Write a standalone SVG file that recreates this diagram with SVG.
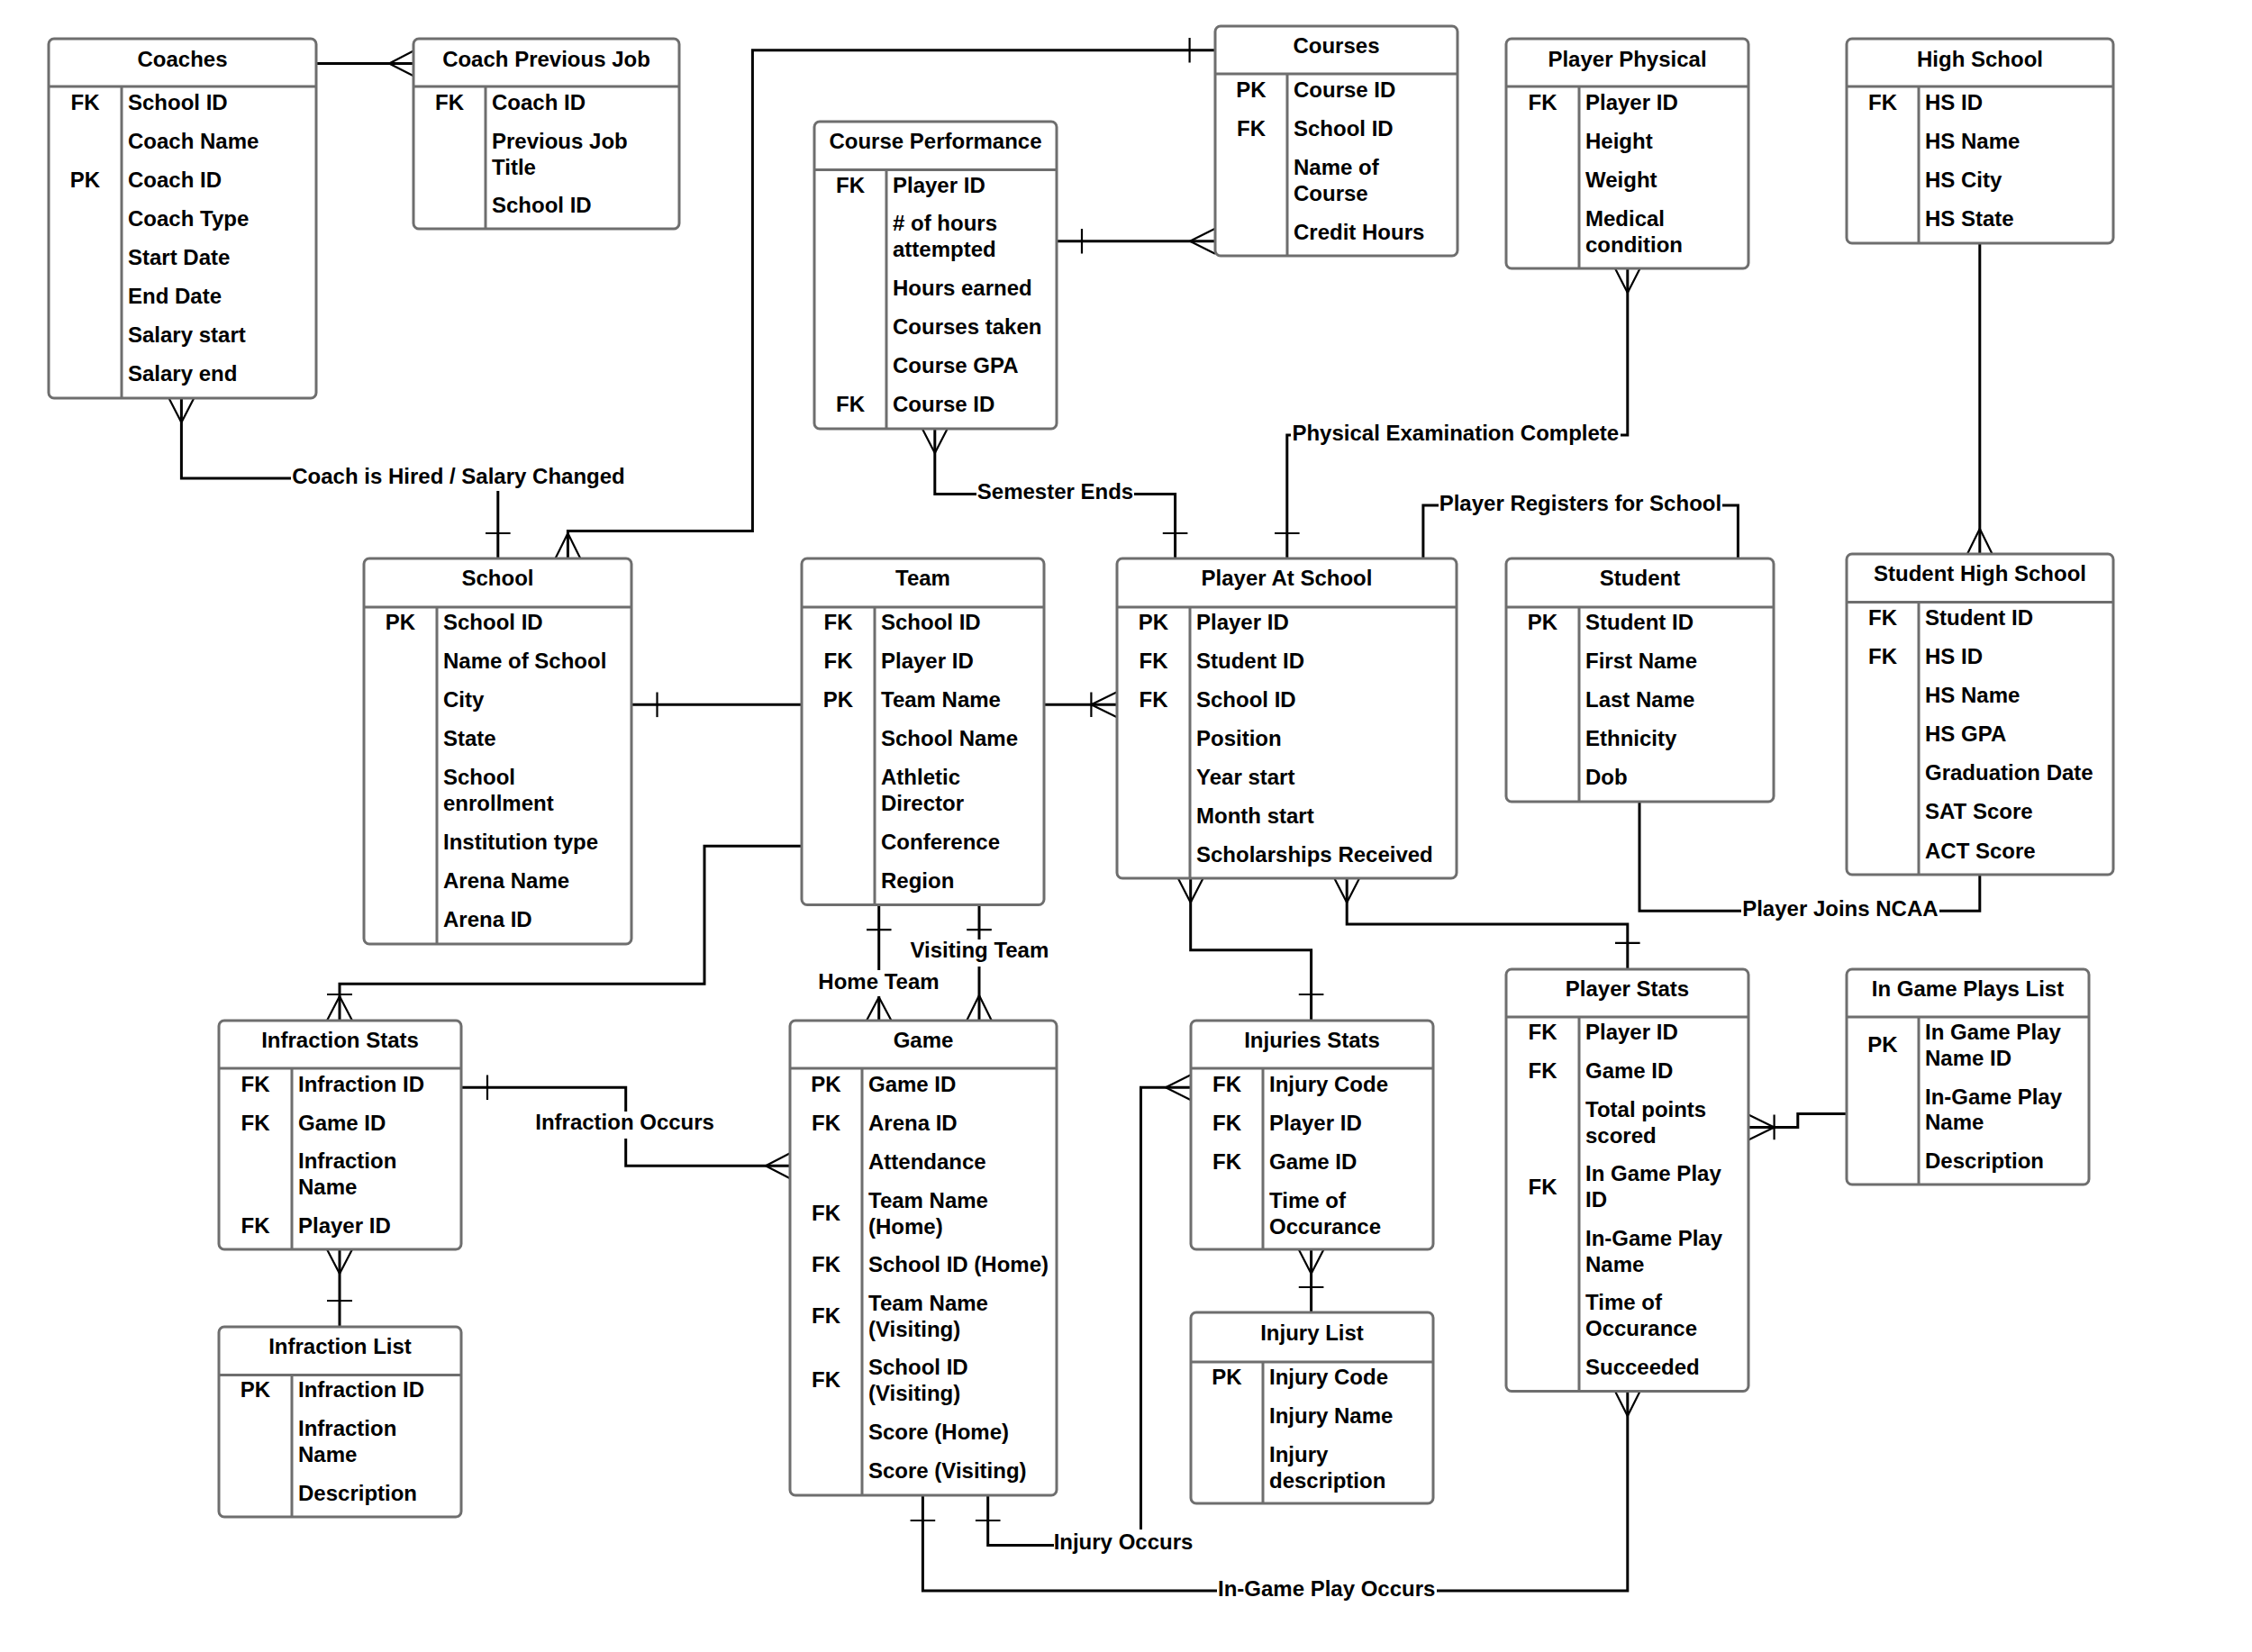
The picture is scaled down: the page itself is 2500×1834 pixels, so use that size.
<svg xmlns="http://www.w3.org/2000/svg" width="2500" height="1834" viewBox="0 0 2500 1834">
<style>
.box{fill:#fff;stroke:#6e6e6e;stroke-width:3}
.sep{stroke:#6e6e6e;stroke-width:3;fill:none}
.t{font-family:"Liberation Sans",Arial,sans-serif;font-size:24px;font-weight:bold;fill:#000}
.c{text-anchor:middle}
.ln{fill:none;stroke:#000;stroke-width:3}
.mk{fill:none;stroke:#000;stroke-width:2.2}
.lb{fill:#fff}
</style>
<rect width="2500" height="1834" fill="#fff"/>
<g id="connectors">
<path class="ln" d="M351,70.4 H459"/>
<path class="mk" d="M432,70.4 L459,56.5 M432,70.4 L459,84.3"/>
<path class="ln" d="M201.4,442 V531 H552.8 V620"/>
<path class="mk" d="M201.4,469 L187.5,442 M201.4,469 L215.3,442 M539,592 H566.6"/>
<path class="ln" d="M630.4,620 V589.5 H835.4 V55.8 H1349"/>
<path class="mk" d="M630.4,592 L616.5,620 M630.4,592 L644.3,620 M1320.6,42 V69.6"/>
<path class="ln" d="M1173,267.7 H1349"/>
<path class="mk" d="M1201,254 V281.4 M1321,267.7 L1349,253.7 M1321,267.7 L1349,281.7"/>
<path class="ln" d="M1037.8,476 V548.4 H1304.6 V620"/>
<path class="mk" d="M1037.8,503 L1023.9,476 M1037.8,503 L1051.7,476 M1290.8,592 H1318.4"/>
<path class="ln" d="M1428.8,620 V483 H1806.8 V298"/>
<path class="mk" d="M1415,592 H1442.6 M1806.8,325 L1793,298 M1806.8,325 L1820.6,298"/>
<path class="ln" d="M1579.9,620 V561 H1929.4 V620"/>
<path class="ln" d="M2197.8,270 V615"/>
<path class="mk" d="M2197.8,587 L2184,615 M2197.8,587 L2211.6,615"/>
<path class="ln" d="M701,782.3 H890"/>
<path class="mk" d="M729.5,768.5 V796.1"/>
<path class="ln" d="M1159,782.3 H1240"/>
<path class="mk" d="M1211.4,768.5 V796.1 M1211.4,782.3 L1240,768.3 M1211.4,782.3 L1240,796.3"/>
<path class="ln" d="M890,939.3 H782 V1092.3 H377 V1133"/>
<path class="mk" d="M363,1104 H391 M377,1106 L363,1133 M377,1106 L391,1133"/>
<path class="ln" d="M975.7,1004.5 V1133"/>
<path class="mk" d="M962,1032.2 H989.5 M975.7,1107 L962,1133 M975.7,1107 L989.5,1133"/>
<path class="ln" d="M1087,1004.5 V1133"/>
<path class="mk" d="M1073.2,1032.2 H1100.8 M1087,1105 L1073.2,1133 M1087,1105 L1100.8,1133"/>
<path class="ln" d="M1321.7,975 V1054.7 H1455.6 V1133"/>
<path class="mk" d="M1321.7,1002 L1307.8,975 M1321.7,1002 L1335.6,975 M1441.8,1104 H1469.4"/>
<path class="ln" d="M1495.2,975 V1025.9 H1806.8 V1076"/>
<path class="mk" d="M1495.2,1002 L1481.3,975 M1495.2,1002 L1509.1,975 M1793,1046.8 H1820.6"/>
<path class="ln" d="M1820,890 V1011.2 H2197.8 V971"/>
<path class="ln" d="M377,1387 V1473"/>
<path class="mk" d="M377,1414 L363,1387 M377,1414 L391,1387 M363,1444 H391"/>
<path class="ln" d="M512,1207.3 H694.7 V1294.2 H877"/>
<path class="mk" d="M541,1193.5 V1221.1 M850,1294.2 L877,1280.2 M850,1294.2 L877,1308.2"/>
<path class="ln" d="M1455.6,1387 V1457"/>
<path class="mk" d="M1455.6,1414 L1441.7,1387 M1455.6,1414 L1469.5,1387 M1441.8,1429 H1469.4"/>
<path class="ln" d="M1096.7,1660 V1715.6 H1266.5 V1207.3 H1322"/>
<path class="mk" d="M1082.9,1688 H1110.5 M1294,1207.3 L1322,1193.3 M1294,1207.3 L1322,1221.3"/>
<path class="ln" d="M1024.4,1660 V1766 H1806.8 V1544.5"/>
<path class="mk" d="M1010.6,1688 H1038.2 M1806.8,1572 L1793,1544.5 M1806.8,1572 L1820.6,1544.5"/>
<path class="ln" d="M2050,1236.4 H1995.8 V1251.4 H1941"/>
<path class="mk" d="M1969.6,1237.6 V1265.2 M1969.6,1251.4 L1941,1237.4 M1969.6,1251.4 L1941,1265.4"/>
<rect class="lb" x="323" y="515" width="372" height="30"/>
<text class="t c" x="509" y="536.5">Coach is Hired / Salary Changed</text>
<rect class="lb" x="1084" y="532" width="175" height="30"/>
<text class="t c" x="1171.5" y="554">Semester Ends</text>
<rect class="lb" x="1433" y="467" width="366" height="30"/>
<text class="t c" x="1615.8" y="488.5">Physical Examination Complete</text>
<rect class="lb" x="1597" y="545" width="315" height="30"/>
<text class="t c" x="1754.4" y="566.5">Player Registers for School</text>
<rect class="lb" x="1933" y="995" width="220" height="30"/>
<text class="t c" x="2042.9" y="1016.7">Player Joins NCAA</text>
<rect class="lb" x="594" y="1234" width="199" height="30"/>
<text class="t c" x="693.6" y="1254">Infraction Occurs</text>
<rect class="lb" x="908" y="1077" width="135" height="29"/>
<text class="t c" x="975.5" y="1098">Home Team</text>
<rect class="lb" x="1010" y="1043" width="155" height="30"/>
<text class="t c" x="1087.4" y="1062.5">Visiting Team</text>
<rect class="lb" x="1170" y="1698" width="154" height="32"/>
<text class="t c" x="1247" y="1720">Injury Occurs</text>
<rect class="lb" x="1351" y="1750" width="244" height="30"/>
<text class="t c" x="1472.7" y="1771.5">In-Game Play Occurs</text>
</g>
<g id="coaches">
<rect class="box" x="54" y="43" width="297" height="399" rx="6"/>
<path class="sep" d="M54,96 H351 M135,96 V442"/>
<text class="t c" x="202.5" y="74">Coaches</text>
<text class="t c" x="94.5" y="122">FK</text><text class="t" x="142" y="122">School ID</text>
<text class="t" x="142" y="165">Coach Name</text>
<text class="t c" x="94.5" y="208">PK</text><text class="t" x="142" y="208">Coach ID</text>
<text class="t" x="142" y="251">Coach Type</text>
<text class="t" x="142" y="294">Start Date</text>
<text class="t" x="142" y="337">End Date</text>
<text class="t" x="142" y="380">Salary start</text>
<text class="t" x="142" y="423">Salary end</text>
</g>
<g id="coach-previous-job">
<rect class="box" x="459" y="43" width="295" height="211" rx="6"/>
<path class="sep" d="M459,96 H754 M539,96 V254"/>
<text class="t c" x="606.5" y="74">Coach Previous Job</text>
<text class="t c" x="499" y="122">FK</text><text class="t" x="546" y="122">Coach ID</text>
<text class="t" x="546" y="165">Previous Job</text>
<text class="t" x="546" y="193.7">Title</text>
<text class="t" x="546" y="236">School ID</text>
</g>
<g id="courses">
<rect class="box" x="1349" y="29" width="269" height="255" rx="6"/>
<path class="sep" d="M1349,82 H1618 M1429,82 V284"/>
<text class="t c" x="1483.5" y="59">Courses</text>
<text class="t c" x="1389" y="108">PK</text><text class="t" x="1436" y="108">Course ID</text>
<text class="t c" x="1389" y="151">FK</text><text class="t" x="1436" y="151">School ID</text>
<text class="t" x="1436" y="194">Name of</text>
<text class="t" x="1436" y="222.7">Course</text>
<text class="t" x="1436" y="266">Credit Hours</text>
</g>
<g id="course-performance">
<rect class="box" x="904" y="135" width="269" height="341" rx="6"/>
<path class="sep" d="M904,188.5 H1173 M984,188.5 V476"/>
<text class="t c" x="1038.5" y="165">Course Performance</text>
<text class="t c" x="944" y="213.5">FK</text><text class="t" x="991" y="213.5">Player ID</text>
<text class="t" x="991" y="256"># of hours</text>
<text class="t" x="991" y="285">attempted</text>
<text class="t" x="991" y="327.5">Hours earned</text>
<text class="t" x="991" y="370.5">Courses taken</text>
<text class="t" x="991" y="414">Course GPA</text>
<text class="t c" x="944" y="457">FK</text><text class="t" x="991" y="457">Course ID</text>
</g>
<g id="player-physical">
<rect class="box" x="1672" y="43" width="269" height="255" rx="6"/>
<path class="sep" d="M1672,96 H1941 M1753,96 V298"/>
<text class="t c" x="1806.5" y="74">Player Physical</text>
<text class="t c" x="1712.5" y="122">FK</text><text class="t" x="1760" y="122">Player ID</text>
<text class="t" x="1760" y="165">Height</text>
<text class="t" x="1760" y="208">Weight</text>
<text class="t" x="1760" y="250.5">Medical</text>
<text class="t" x="1760" y="279.5">condition</text>
</g>
<g id="high-school">
<rect class="box" x="2050" y="43" width="296" height="227" rx="6"/>
<path class="sep" d="M2050,96 H2346 M2130,96 V270"/>
<text class="t c" x="2198" y="74">High School</text>
<text class="t c" x="2090" y="122">FK</text><text class="t" x="2137" y="122">HS ID</text>
<text class="t" x="2137" y="165">HS Name</text>
<text class="t" x="2137" y="208">HS City</text>
<text class="t" x="2137" y="251">HS State</text>
</g>
<g id="school">
<rect class="box" x="404" y="620" width="297" height="428" rx="6"/>
<path class="sep" d="M404,674 H701 M485,674 V1048"/>
<text class="t c" x="552.5" y="650">School</text>
<text class="t c" x="444.5" y="699">PK</text><text class="t" x="492" y="699">School ID</text>
<text class="t" x="492" y="742">Name of School</text>
<text class="t" x="492" y="785">City</text>
<text class="t" x="492" y="828">State</text>
<text class="t" x="492" y="871">School</text>
<text class="t" x="492" y="900">enrollment</text>
<text class="t" x="492" y="943">Institution type</text>
<text class="t" x="492" y="986">Arena Name</text>
<text class="t" x="492" y="1029">Arena ID</text>
</g>
<g id="team">
<rect class="box" x="890" y="620" width="269" height="384.5" rx="6"/>
<path class="sep" d="M890,674 H1159 M971,674 V1004.5"/>
<text class="t c" x="1024.5" y="650">Team</text>
<text class="t c" x="930.5" y="699">FK</text><text class="t" x="978" y="699">School ID</text>
<text class="t c" x="930.5" y="742">FK</text><text class="t" x="978" y="742">Player ID</text>
<text class="t c" x="930.5" y="785">PK</text><text class="t" x="978" y="785">Team Name</text>
<text class="t" x="978" y="828">School Name</text>
<text class="t" x="978" y="871">Athletic</text>
<text class="t" x="978" y="900">Director</text>
<text class="t" x="978" y="943">Conference</text>
<text class="t" x="978" y="986">Region</text>
</g>
<g id="player-at-school">
<rect class="box" x="1240" y="620" width="377" height="355" rx="6"/>
<path class="sep" d="M1240,674 H1617 M1321,674 V975"/>
<text class="t c" x="1428.5" y="650">Player At School</text>
<text class="t c" x="1280.5" y="699">PK</text><text class="t" x="1328" y="699">Player ID</text>
<text class="t c" x="1280.5" y="742">FK</text><text class="t" x="1328" y="742">Student ID</text>
<text class="t c" x="1280.5" y="785">FK</text><text class="t" x="1328" y="785">School ID</text>
<text class="t" x="1328" y="828">Position</text>
<text class="t" x="1328" y="871">Year start</text>
<text class="t" x="1328" y="914">Month start</text>
<text class="t" x="1328" y="957">Scholarships Received</text>
</g>
<g id="student">
<rect class="box" x="1672" y="620" width="297" height="270" rx="6"/>
<path class="sep" d="M1672,674 H1969 M1753,674 V890"/>
<text class="t c" x="1820.5" y="650">Student</text>
<text class="t c" x="1712.5" y="699">PK</text><text class="t" x="1760" y="699">Student ID</text>
<text class="t" x="1760" y="742">First Name</text>
<text class="t" x="1760" y="785">Last Name</text>
<text class="t" x="1760" y="828">Ethnicity</text>
<text class="t" x="1760" y="871">Dob</text>
</g>
<g id="student-high-school">
<rect class="box" x="2050" y="615" width="296" height="356" rx="6"/>
<path class="sep" d="M2050,668.5 H2346 M2130,668.5 V971"/>
<text class="t c" x="2198" y="645">Student High School</text>
<text class="t c" x="2090" y="693.5">FK</text><text class="t" x="2137" y="693.5">Student ID</text>
<text class="t c" x="2090" y="736.5">FK</text><text class="t" x="2137" y="736.5">HS ID</text>
<text class="t" x="2137" y="780">HS Name</text>
<text class="t" x="2137" y="823">HS GPA</text>
<text class="t" x="2137" y="866">Graduation Date</text>
<text class="t" x="2137" y="909">SAT Score</text>
<text class="t" x="2137" y="952.5">ACT Score</text>
</g>
<g id="infraction-stats">
<rect class="box" x="243" y="1133" width="269" height="254" rx="6"/>
<path class="sep" d="M243,1186 H512 M324,1186 V1387"/>
<text class="t c" x="377.5" y="1162.5">Infraction Stats</text>
<text class="t c" x="283.5" y="1212">FK</text><text class="t" x="331" y="1212">Infraction ID</text>
<text class="t c" x="283.5" y="1255">FK</text><text class="t" x="331" y="1255">Game ID</text>
<text class="t" x="331" y="1297">Infraction</text>
<text class="t" x="331" y="1326">Name</text>
<text class="t c" x="283.5" y="1369">FK</text><text class="t" x="331" y="1369">Player ID</text>
</g>
<g id="infraction-list">
<rect class="box" x="243" y="1473" width="269" height="211" rx="6"/>
<path class="sep" d="M243,1526.5 H512 M324,1526.5 V1684"/>
<text class="t c" x="377.5" y="1503">Infraction List</text>
<text class="t c" x="283.5" y="1551">PK</text><text class="t" x="331" y="1551">Infraction ID</text>
<text class="t" x="331" y="1593.5">Infraction</text>
<text class="t" x="331" y="1622.5">Name</text>
<text class="t" x="331" y="1665.5">Description</text>
</g>
<g id="game">
<rect class="box" x="877" y="1133" width="296" height="527" rx="6"/>
<path class="sep" d="M877,1186 H1173 M957,1186 V1660"/>
<text class="t c" x="1025" y="1162.5">Game</text>
<text class="t c" x="917" y="1212">PK</text><text class="t" x="964" y="1212">Game ID</text>
<text class="t c" x="917" y="1255">FK</text><text class="t" x="964" y="1255">Arena ID</text>
<text class="t" x="964" y="1297.5">Attendance</text>
<text class="t c" x="917" y="1355">FK</text><text class="t" x="964" y="1340.5">Team Name</text>
<text class="t" x="964" y="1369.5">(Home)</text>
<text class="t c" x="917" y="1411.5">FK</text><text class="t" x="964" y="1411.5">School ID (Home)</text>
<text class="t c" x="917" y="1469">FK</text><text class="t" x="964" y="1454.5">Team Name</text>
<text class="t" x="964" y="1483.5">(Visiting)</text>
<text class="t c" x="917" y="1540">FK</text><text class="t" x="964" y="1525.5">School ID</text>
<text class="t" x="964" y="1554.5">(Visiting)</text>
<text class="t" x="964" y="1597.5">Score (Home)</text>
<text class="t" x="964" y="1640.5">Score (Visiting)</text>
</g>
<g id="injuries-stats">
<rect class="box" x="1322" y="1133" width="269" height="254" rx="6"/>
<path class="sep" d="M1322,1186 H1591 M1402,1186 V1387"/>
<text class="t c" x="1456.5" y="1162.5">Injuries Stats</text>
<text class="t c" x="1362" y="1212">FK</text><text class="t" x="1409" y="1212">Injury Code</text>
<text class="t c" x="1362" y="1255">FK</text><text class="t" x="1409" y="1255">Player ID</text>
<text class="t c" x="1362" y="1297.5">FK</text><text class="t" x="1409" y="1297.5">Game ID</text>
<text class="t" x="1409" y="1340.5">Time of</text>
<text class="t" x="1409" y="1369.5">Occurance</text>
</g>
<g id="injury-list">
<rect class="box" x="1322" y="1457" width="269" height="212" rx="6"/>
<path class="sep" d="M1322,1512 H1591 M1402,1512 V1669"/>
<text class="t c" x="1456.5" y="1487.5">Injury List</text>
<text class="t c" x="1362" y="1537">PK</text><text class="t" x="1409" y="1537">Injury Code</text>
<text class="t" x="1409" y="1580">Injury Name</text>
<text class="t" x="1409" y="1622.5">Injury</text>
<text class="t" x="1409" y="1651.5">description</text>
</g>
<g id="player-stats">
<rect class="box" x="1672" y="1076" width="269" height="468.5" rx="6"/>
<path class="sep" d="M1672,1129 H1941 M1753,1129 V1544.5"/>
<text class="t c" x="1806.5" y="1105.5">Player Stats</text>
<text class="t c" x="1712.5" y="1154">FK</text><text class="t" x="1760" y="1154">Player ID</text>
<text class="t c" x="1712.5" y="1197">FK</text><text class="t" x="1760" y="1197">Game ID</text>
<text class="t" x="1760" y="1240">Total points</text>
<text class="t" x="1760" y="1269">scored</text>
<text class="t c" x="1712.5" y="1325.5">FK</text><text class="t" x="1760" y="1311">In Game Play</text>
<text class="t" x="1760" y="1340">ID</text>
<text class="t" x="1760" y="1383">In-Game Play</text>
<text class="t" x="1760" y="1412">Name</text>
<text class="t" x="1760" y="1454">Time of</text>
<text class="t" x="1760" y="1483">Occurance</text>
<text class="t" x="1760" y="1525.5">Succeeded</text>
</g>
<g id="in-game-plays-list">
<rect class="box" x="2050" y="1076" width="269" height="239" rx="6"/>
<path class="sep" d="M2050,1129 H2319 M2130,1129 V1315"/>
<text class="t c" x="2184.5" y="1105.5">In Game Plays List</text>
<text class="t c" x="2090" y="1168">PK</text><text class="t" x="2137" y="1154">In Game Play</text>
<text class="t" x="2137" y="1182.5">Name ID</text>
<text class="t" x="2137" y="1225.5">In-Game Play</text>
<text class="t" x="2137" y="1254">Name</text>
<text class="t" x="2137" y="1297">Description</text>
</g>
</svg>
